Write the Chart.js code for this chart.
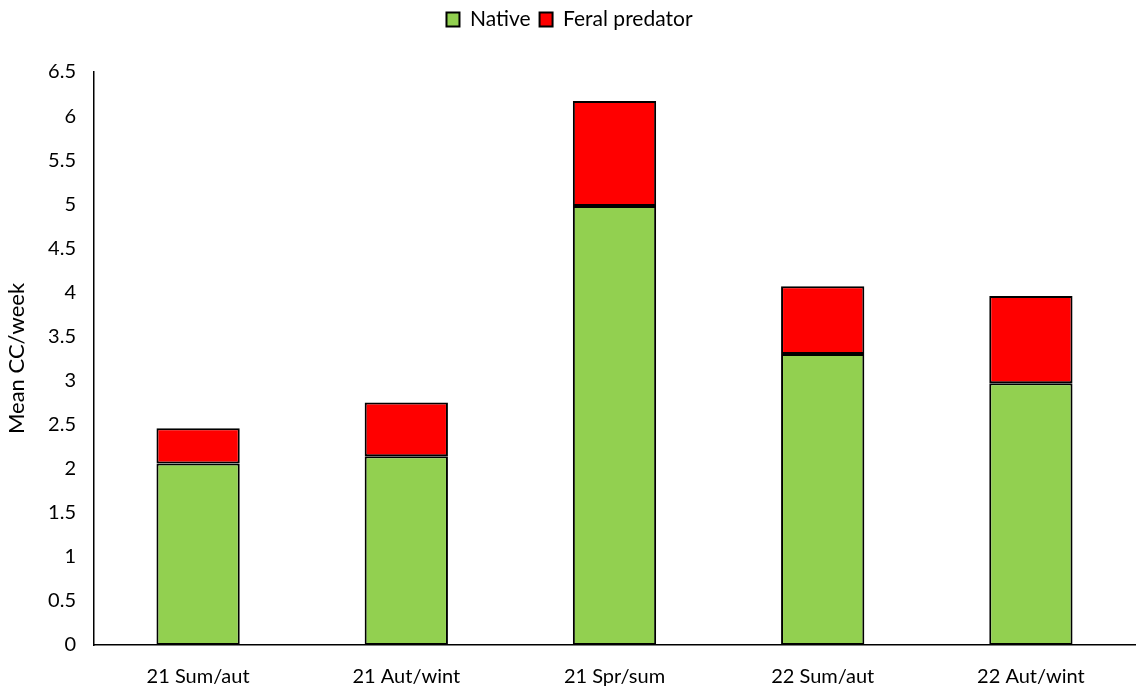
<!DOCTYPE html>
<html lang="en">
<head>
    <meta charset="UTF-8">
    <title>Mean CC/week</title>
    <script src="https://cdn.jsdelivr.net/npm/chart.js"></script>
    <style>
        html, body { margin: 0; padding: 0; background: #ffffff; }
        #wrap { width: 1136px; height: 690px; }
    </style>
</head>
<body>
    <div id="wrap"><canvas id="ccChart"></canvas></div>
    <script>
        // Data
        const seasons = ['21 Sum/aut', '21 Aut/wint', '21 Spr/sum', '22 Sum/aut', '22 Aut/wint'];
        const nativeValues = [2.06, 2.14, 4.98, 3.30, 2.97];
        const feralValues = [0.40, 0.61, 1.19, 0.77, 0.99];
        const yTicks = [0, 0.5, 1, 1.5, 2, 2.5, 3, 3.5, 4, 4.5, 5, 5.5, 6, 6.5];

        const font = "Lato, 'Open Sans', sans-serif";

        // extra room under the legend, like the gap in the original
        const legendGap = {
            id: 'legendGap',
            beforeInit(chart) {
                const fit = chart.legend.fit;
                chart.legend.fit = function () {
                    fit.bind(chart.legend)();
                    this.height += 32;
                };
            }
        };

        const ctx = document.getElementById('ccChart').getContext('2d');
        new Chart(ctx, {
            type: 'bar',
            data: {
                labels: seasons,
                datasets: [{
                    label: 'Native',
                    data: nativeValues,
                    backgroundColor: '#92D050',
                    borderColor: '#000000',
                    borderWidth: 2,
                    borderSkipped: false,
                    categoryPercentage: 1,
                    barPercentage: 0.4
                }, {
                    label: 'Feral predator',
                    data: feralValues,
                    backgroundColor: '#FF0000',
                    borderColor: '#000000',
                    borderWidth: 2,
                    borderSkipped: false,
                    categoryPercentage: 1,
                    barPercentage: 0.4
                }]
            },
            options: {
                responsive: true,
                maintainAspectRatio: false,
                animation: false,
                layout: { padding: { left: 4, right: 1, top: 0, bottom: 0 } },
                scales: {
                    x: {
                        stacked: true,
                        grid: { display: false },
                        border: { display: true, color: '#000000', width: 1.5 },
                        ticks: { color: '#000000', font: { family: font, size: 20 }, padding: 12 },
                        afterFit: (scale) => { scale.height = 45; }
                    },
                    y: {
                        stacked: true,
                        min: 0,
                        max: 6.5,
                        afterBuildTicks: (scale) => { scale.ticks = yTicks.map(v => ({ value: v })); },
                        grid: { display: false },
                        border: { display: true, color: '#000000', width: 1.5 },
                        ticks: {
                            color: '#000000',
                            font: { family: font, size: 20 },
                            padding: 10,
                            callback: (v) => String(v)
                        },
                        title: {
                            display: true,
                            text: 'Mean CC/week',
                            color: '#000000',
                            font: { family: font, size: 22 },
                            padding: 0
                        },
                        afterFit: (scale) => { scale.width = 90; }
                    }
                },
                plugins: {
                    legend: {
                        position: 'top',
                        labels: {
                            color: '#000000',
                            font: { family: font, size: 21 },
                            boxWidth: 13,
                            boxHeight: 14,
                            padding: 9
                        }
                    },
                    tooltip: { enabled: false }
                }
            },
            plugins: [legendGap]
        });
    </script>
</body>
</html>
